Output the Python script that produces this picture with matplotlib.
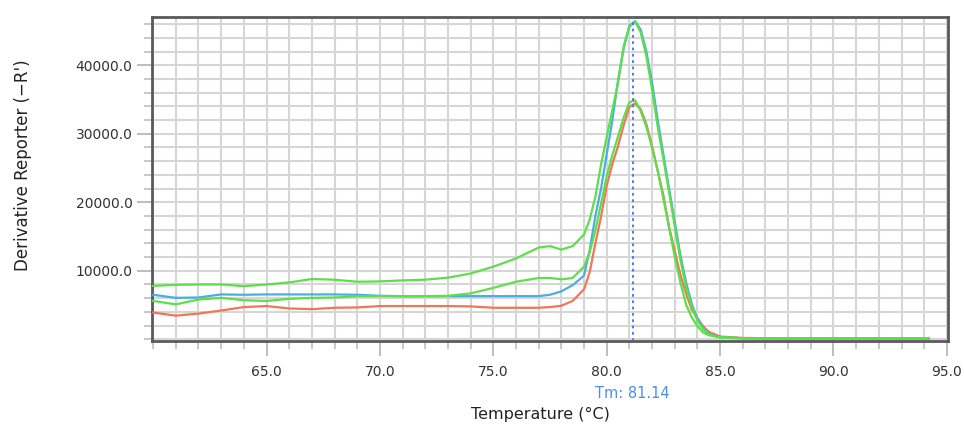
import matplotlib
matplotlib.use("Agg")
import matplotlib.pyplot as plt
from matplotlib.ticker import MultipleLocator, FormatStrFormatter
import matplotlib.transforms as mtransforms

plt.rcParams['font.family'] = ['DejaVu Sans']

# ---- data ----
temperature = [60, 61, 62, 63, 64, 65, 66, 67, 68, 69, 70, 71, 72, 73, 74, 75, 76, 77,
               77.5, 78, 78.5, 79, 79.25, 79.5, 79.75, 80, 80.25, 80.5, 80.75, 81,
               81.25, 81.5, 81.75, 82, 82.25, 82.5, 82.75, 83, 83.25, 83.5, 83.75,
               84, 84.25, 84.5, 85, 86, 88, 90, 92, 94.2]

green_high = [7800, 7950, 8000, 8000, 7750, 8000, 8300, 8800, 8700, 8400, 8450, 8600,
              8700, 9000, 9600, 10600, 11800, 13400, 13600, 13100, 13600, 15300, 17500,
              20800, 25500, 29500, 33500, 37400, 42800, 45600, 46400, 44800, 41300,
              36500, 31000, 26300, 21500, 16500, 11600, 7600, 4800, 2700, 1500, 700,
              250, 150, 120, 120, 120, 120]

blue_high = [6500, 6050, 6100, 6550, 6500, 6550, 6550, 6550, 6550, 6500, 6350, 6300,
             6300, 6300, 6300, 6300, 6300, 6300, 6500, 7000, 7900, 9300, 13000, 18000,
             22000, 27000, 32000, 37800, 42500, 45800, 46450, 45200, 42000, 37500,
             32000, 27000, 22000, 17200, 12300, 8300, 5200, 3000, 1700, 800, 300, 150,
             120, 120, 120, 120]

green_low = [5600, 5100, 5800, 6050, 5700, 5600, 5900, 6050, 6100, 6300, 6300, 6300,
             6300, 6350, 6700, 7500, 8400, 8950, 8950, 8750, 8950, 10600, 12700, 15900,
             19800, 23800, 26900, 29600, 32400, 34600, 34900, 33300, 31000, 28000,
             24600, 20500, 16300, 12100, 8300, 5100, 3200, 1900, 1000, 600, 300, 150,
             120, 120, 120, 120]

orange_low = [3900, 3450, 3750, 4200, 4700, 4850, 4500, 4400, 4600, 4650, 4850, 4850,
              4850, 4850, 4800, 4600, 4600, 4600, 4700, 4900, 5600, 7300, 9800, 14000,
              17900, 22400, 25600, 28200, 31300, 33900, 34450, 33600, 31400, 28200,
              24600, 21000, 16400, 12900, 9400, 6700, 4300, 3100, 1900, 1100, 400, 200,
              120, 120, 120, 120]

tm_value = 81.14
x_ticks = [65.0, 70.0, 75.0, 80.0, 85.0, 90.0, 95.0]
y_ticks = [10000.0, 20000.0, 30000.0, 40000.0]

# ---- figure ----
fig = plt.figure(figsize=(9.64, 4.26), dpi=100)
ax = fig.add_axes([152 / 964, 1 - 341 / 426, (948 - 152) / 964, (341 - 17) / 426])

ax.set_xlim(59.95, 95.05)
ax.set_ylim(-250, 47050)

ax.xaxis.set_major_locator(MultipleLocator(5))
ax.xaxis.set_minor_locator(MultipleLocator(1))
ax.yaxis.set_major_locator(MultipleLocator(10000))
ax.yaxis.set_minor_locator(MultipleLocator(2000))
ax.set_xticks(x_ticks)
ax.set_yticks(y_ticks)
ax.xaxis.set_major_formatter(FormatStrFormatter('%.1f'))
ax.yaxis.set_major_formatter(FormatStrFormatter('%.1f'))

ax.grid(True, which='both', color='#d6d6d6', linewidth=1.5)
ax.set_axisbelow(True)

ax.tick_params(which='major', direction='out', length=11, width=1.3, color='#b8b8b8',
               labelsize=10, labelcolor='#333333', pad=3)
ax.tick_params(axis='x', which='major', pad=6)
ax.tick_params(which='minor', direction='out', length=6, width=1.3, color='#c4c4c4')

for sp in ax.spines.values():
    sp.set_color('#5a5a5a')
    sp.set_linewidth(2)

lw = 1.6
ax.plot(temperature, orange_low, color='#ee7755', lw=lw, zorder=3)
ax.plot(temperature, blue_high, color='#4aaee6', lw=lw, zorder=4)
ax.plot(temperature, green_low, color='#5ede4a', lw=lw, zorder=5)
ax.plot(temperature, green_high, color='#5ede4a', lw=lw, zorder=5)

ax.axvline(tm_value, color='#3377ee', lw=1.3, linestyle=(0, (1.5, 2)), zorder=6)

trans = mtransforms.blended_transform_factory(ax.transData, fig.transFigure)
ax.text(tm_value, 1 - 394 / 426, f"Tm: {tm_value:.2f}", transform=trans,
        ha='center', va='center', color='#4a8ef0', fontsize=10.5)

fig.text(540 / 964, 1 - 414 / 426, "Temperature (°C)", ha='center', va='center',
         fontsize=11.5, color='#222222')
fig.text(23 / 964, 1 - 165 / 426, "Derivative Reporter (\u2212R')", ha='center',
         va='center', rotation=90, fontsize=12, color='#222222')

fig.savefig("out.png", dpi=100, facecolor='white')
